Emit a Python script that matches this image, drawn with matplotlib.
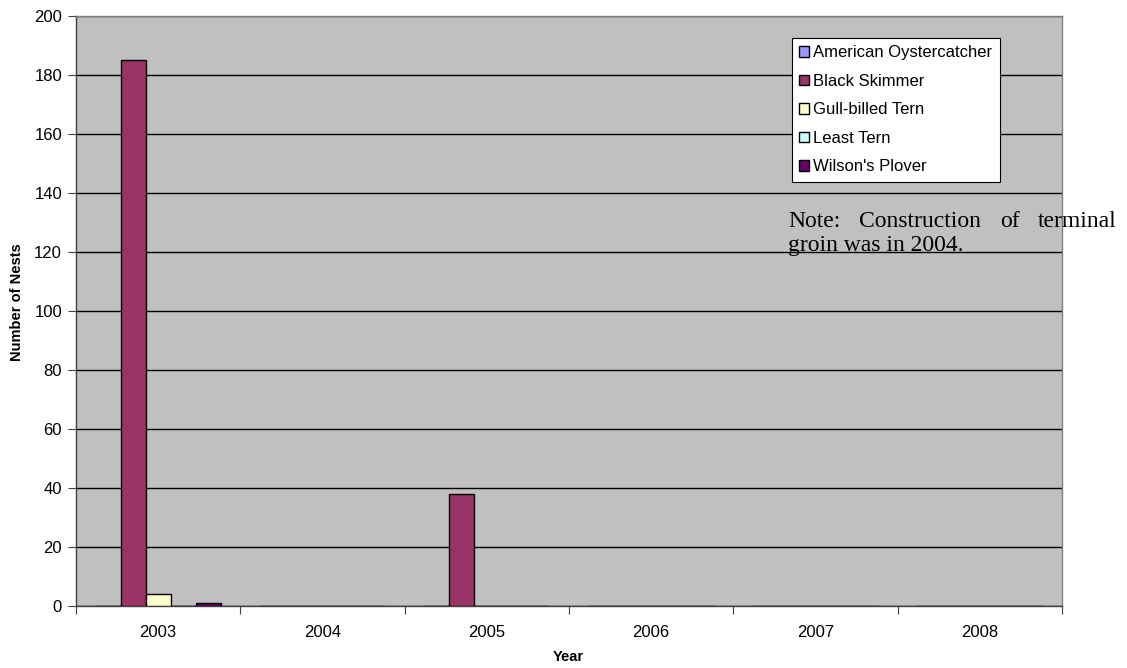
import matplotlib
matplotlib.use("Agg")
import matplotlib.pyplot as plt
import numpy as np

years = ["2003", "2004", "2005", "2006", "2007", "2008"]
species = ["American Oystercatcher", "Black Skimmer", "Gull-billed Tern",
           "Least Tern", "Wilson's Plover"]
american_oystercatcher = [0, 0, 0, 0, 0, 0]
black_skimmer = [185, 0, 38, 0, 0, 0]
gull_billed_tern = [4, 0, 0, 0, 0, 0]
least_tern = [0, 0, 0, 0, 0, 0]
wilsons_plover = [1, 0, 0, 0, 0, 0]
series = [american_oystercatcher, black_skimmer, gull_billed_tern,
          least_tern, wilsons_plover]
colors = ["#9999FF", "#993366", "#FFFFCC", "#CCFFFF", "#660066"]

note_line1 = ["Note:", "Construction", "of", "terminal"]
note_line2 = "groin was in 2004."

plt.rcParams["font.family"] = ["Liberation Sans", "DejaVu Sans"]

W, H = 1127, 668
fig = plt.figure(figsize=(W / 100, H / 100), dpi=100)
ax = fig.add_axes([0.0674, 0.0928, 0.8749, 0.8832])
ax.set_facecolor("#C0C0C0")

x = np.arange(len(years))
w = 0.152
for i, (vals, c, name) in enumerate(zip(series, colors, species)):
    offs = (i - 2) * w
    ax.bar(x + offs, vals, width=w, color=c, edgecolor="black",
           linewidth=1.0, label=name, zorder=3)

ax.set_xlim(-0.5, len(years) - 0.5)
ax.set_ylim(0, 200)
ax.set_yticks(np.arange(0, 201, 20))
ax.yaxis.grid(True, color="black", linewidth=1.0, zorder=1)
ax.set_axisbelow(True)

# category boundaries as major ticks, labels centred via minor ticks
ax.set_xticks(np.arange(-0.5, len(years) + 0.5, 1.0))
ax.set_xticklabels([])
ax.set_xticks(x, minor=True)
ax.set_xticklabels(years, minor=True)
ax.tick_params(axis="x", which="minor", length=0, pad=14, labelsize=12)
ax.tick_params(axis="x", which="major", length=6, color="#404040", direction="out")
ax.tick_params(axis="y", length=6, color="#404040", labelsize=12, pad=4)

for side in ["left", "bottom"]:
    ax.spines[side].set_color("#404040")
    ax.spines[side].set_linewidth(1.0)
for side in ["top", "right"]:
    ax.spines[side].set_color("#808080")
    ax.spines[side].set_linewidth(1.0)

fig.text(568 / W, 1 - 657 / H, "Year", ha="center", va="center",
         fontweight="bold", fontsize=10.5)
fig.text(17 / W, 1 - 302 / H, "Number of Nests", ha="center", va="center",
         rotation=90, fontweight="bold", fontsize=10.5)

leg = ax.legend(loc="upper left", bbox_to_anchor=(0.726, 0.963), frameon=True,
                fancybox=False, edgecolor="black", framealpha=1.0,
                fontsize=12, handlelength=0.6, handleheight=0.6,
                handletextpad=0.25, labelspacing=0.81, borderpad=0.45,
                borderaxespad=0)
leg.get_frame().set_linewidth(0.8)

# justified note: first line spread between fixed left and right edges
serif = ["Liberation Serif", "DejaVu Serif"]
nfs = 17
left_px, right_px = 788, 1117
base1, base2 = 227, 251
fig.canvas.draw()
renderer = fig.canvas.get_renderer()
words = [fig.text(0, 0, wd, ha="left", va="baseline", fontsize=nfs, family=serif)
         for wd in note_line1]
widths = [t.get_window_extent(renderer).width for t in words]
gap = (right_px - left_px - sum(widths)) / (len(words) - 1)
pos = left_px
for t, wd in zip(words, widths):
    t.set_position((pos / W, 1 - base1 / H))
    pos += wd + gap
fig.text(left_px / W, 1 - base2 / H, note_line2, ha="left", va="baseline",
         fontsize=nfs, family=serif)

fig.savefig("out.png", dpi=100)
